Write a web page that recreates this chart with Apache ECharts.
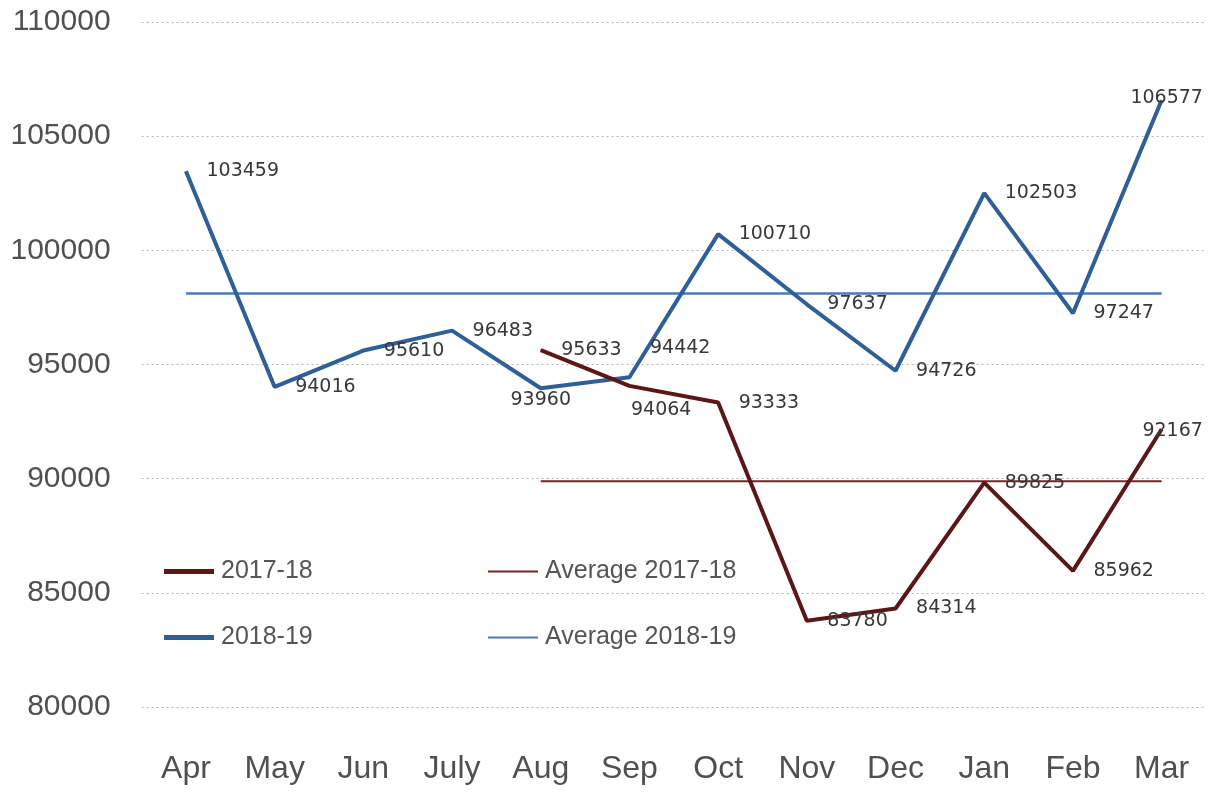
<!DOCTYPE html>
<html>
<head>
<meta charset="utf-8">
<script src="https://cdn.jsdelivr.net/npm/echarts@6/dist/echarts.min.js"></script>
<style>
    html, body { margin: 0; padding: 0; background: #fff; }
    #chart { width: 1216px; height: 793px; }
</style>
</head>
<body>
<div id="chart"></div>
<script>
var months = ['Apr', 'May', 'Jun', 'July', 'Aug', 'Sep', 'Oct', 'Nov', 'Dec', 'Jan', 'Feb', 'Mar'];
var sales1718 = ['-', '-', '-', '-', 95633, 94064, 93333, 83780, 84314, 89825, 85962, 92167];
var sales1819 = [103459, 94016, 95610, 96483, 93960, 94442, 100710, 97637, 94726, 102503, 97247, 106577];
var avg1718 = ['-', '-', '-', '-', 89885, 89885, 89885, 89885, 89885, 89885, 89885, 89885];
var avg1819 = [98114, 98114, 98114, 98114, 98114, 98114, 98114, 98114, 98114, 98114, 98114, 98114];
var yTicks = [80000, 85000, 90000, 95000, 100000, 105000, 110000];

var RED = '#5c1616', BLUE = '#2f5f98';

//标签位置个别调整
var labelFix1819 = {
    4: {position: 'bottom', distance: 2},
    5: {offset: [0, -29]},
    11: {position: 'inside', offset: [5, -2]}
};
var labelFix1718 = {
    5: {distance: 1, offset: [0, 24]},
    11: {position: 'inside', offset: [11, 2]}
};

function withLabels(values, fix) {
    return values.map(function (v, i) {
        if (v === '-') return v;
        return fix[i] ? {value: v, label: fix[i]} : v;
    });
}

var chart = echarts.init(document.getElementById('chart'));

var dataLabel = {
    show: true,
    position: 'right',
    distance: 20,
    color: '#383838',
    fontFamily: 'DejaVu Sans',
    fontSize: 19
};

function legendAt(name, left, top) {
    return {
        data: [name],
        left: left,
        top: top,
        orient: 'horizontal',
        icon: 'rect',
        itemWidth: 50,
        itemHeight: name.indexOf('Average') === 0 ? 2 : 5,
        itemGap: 0,
        textStyle: {
            color: '#555555',
            fontFamily: 'Liberation Sans',
            fontSize: 25,
            padding: [0, 0, 0, 2]
        }
    };
}

var option = {
    backgroundColor: '#fff',
    animation: false,
    grid: {
        left: 141.6,
        right: 10,
        top: 22,
        bottom: 86
    },
    legend: [
        legendAt('2017-18', 159, 554),
        legendAt('Average 2017-18', 483, 554),
        legendAt('2018-19', 159, 620),
        legendAt('Average 2018-19', 483, 620)
    ],
    xAxis: {
        type: 'category',
        data: months,
        boundaryGap: true,
        axisLine: {show: false},
        axisTick: {show: false},
        axisLabel: {
            color: '#505050',
            fontFamily: 'Liberation Sans',
            fontSize: 32,
            margin: 46
        }
    },
    yAxis: {
        type: 'value',
        min: yTicks[0],
        max: yTicks[yTicks.length - 1],
        interval: 5000,
        axisLine: {show: false},
        axisTick: {show: false},
        axisLabel: {
            color: '#505050',
            fontFamily: 'Liberation Sans',
            fontSize: 30,
            margin: 31,
            formatter: function (v) { return String(v); }
        },
        splitLine: {
            lineStyle: {
                color: '#b4b4b4',
                type: [2, 3],
                width: 1
            }
        }
    },
    series: [{
        name: 'Average 2018-19',
        type: 'line',
        data: avg1819,
        symbol: 'none',
        lineStyle: {color: '#4a78c0', width: 2.5},
        itemStyle: {color: '#4a78c0'},
        z: 2
    }, {
        name: '2018-19',
        type: 'line',
        data: withLabels(sales1819, labelFix1819),
        symbol: 'circle',
        symbolSize: 1,
        lineStyle: {color: BLUE, width: 4},
        itemStyle: {color: BLUE},
        label: dataLabel,
        z: 3
    }, {
        name: 'Average 2017-18',
        type: 'line',
        data: avg1718,
        symbol: 'none',
        lineStyle: {color: '#7a2424', width: 2},
        itemStyle: {color: '#7a2424'},
        z: 4
    }, {
        name: '2017-18',
        type: 'line',
        data: withLabels(sales1718, labelFix1718),
        symbol: 'circle',
        symbolSize: 1,
        lineStyle: {color: RED, width: 4},
        itemStyle: {color: RED},
        label: dataLabel,
        z: 5
    }]
};
chart.setOption(option);
</script>
</body>
</html>
